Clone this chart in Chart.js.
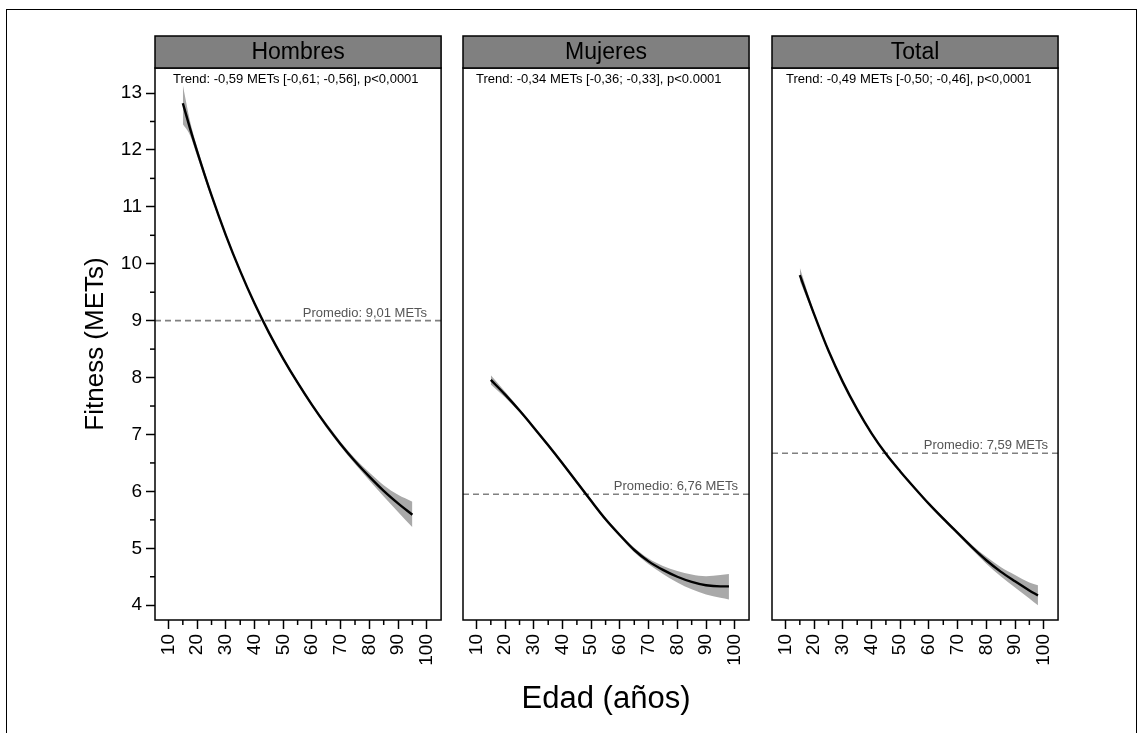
<!DOCTYPE html>
<html><head><meta charset="utf-8">
<script src="https://cdn.jsdelivr.net/npm/chart.js@4.4.1/dist/chart.umd.min.js"></script>
<style>
html,body{margin:0;padding:0;background:#fff;width:1141px;height:733px;overflow:hidden;}
#frame{position:absolute;left:6px;top:9px;width:1131px;height:740px;border:1.5px solid #000;box-sizing:border-box;}
canvas{position:absolute;top:0;}
</style></head><body>
<div id="frame"></div>
<canvas id="c1" width="455" height="733" style="left:0px"></canvas>
<canvas id="c2" width="308" height="733" style="left:455px"></canvas>
<canvas id="c3" width="309" height="733" style="left:763px"></canvas>
<script>
// ---- tick labels / axes ----
const X_TICKS = [10, 20, 30, 40, 50, 60, 70, 80, 90, 100];
const X_MINOR = [15, 25, 35, 45, 55, 65, 75, 85, 95];
const Y_TICKS = [4, 5, 6, 7, 8, 9, 10, 11, 12, 13];
const Y_MINOR = [4.5, 5.5, 6.5, 7.5, 8.5, 9.5, 10.5, 11.5, 12.5];
const X_MIN = 5.3, X_MAX = 105;
const Y_MIN = 3.74, Y_MAX = 13.44;
const Y_TITLE = 'Fitness (METs)';
const X_TITLE = 'Edad (años)';

// ---- panels ----
const PANELS = ['Hombres', 'Mujeres', 'Total'];
const TRENDS = [
  'Trend: -0,59 METs [-0,61; -0,56], p<0,0001',
  'Trend: -0,34 METs [-0,36; -0,33], p<0.0001',
  'Trend: -0,49 METs [-0,50; -0,46], p<0,0001'
];
const MEAN_LABELS = ['Promedio: 9,01 METs', 'Promedio: 6,76 METs', 'Promedio: 7,59 METs'];
const MEAN_LINE = [9.0, 5.95, 6.67];

// ---- Hombres ----
const AGE_H = [15, 17.5, 20, 25, 30, 35, 40, 45, 50, 55, 60, 65, 70, 75, 80, 85, 90, 95];
const FIT_H = [12.82, 12.38, 11.97, 11.20, 10.50, 9.87, 9.30, 8.79, 8.33, 7.91, 7.52, 7.16, 6.83, 6.53, 6.26, 6.01, 5.79, 5.59];
const LO_H  = [12.45, 12.26, 11.89, 11.15, 10.46, 9.84, 9.27, 8.76, 8.30, 7.88, 7.49, 7.12, 6.79, 6.48, 6.19, 5.91, 5.64, 5.37];
const HI_H  = [13.14, 12.51, 12.05, 11.25, 10.54, 9.90, 9.33, 8.82, 8.36, 7.94, 7.55, 7.20, 6.87, 6.58, 6.33, 6.11, 5.94, 5.82];

// ---- Mujeres ----
const AGE_M = [15, 20, 25, 30, 35, 40, 45, 50, 55, 60, 65, 70, 75, 80, 85, 90, 95, 98];
const FIT_M = [7.96, 7.70, 7.42, 7.12, 6.81, 6.49, 6.16, 5.83, 5.51, 5.23, 4.97, 4.77, 4.62, 4.50, 4.41, 4.35, 4.33, 4.33];
const LO_M  = [7.88, 7.65, 7.39, 7.09, 6.78, 6.46, 6.13, 5.80, 5.48, 5.20, 4.93, 4.72, 4.55, 4.40, 4.28, 4.19, 4.13, 4.10];
const HI_M  = [8.04, 7.75, 7.45, 7.15, 6.84, 6.52, 6.19, 5.86, 5.54, 5.26, 5.01, 4.82, 4.69, 4.60, 4.54, 4.51, 4.53, 4.55];

// ---- Total ----
const AGE_T = [15, 20, 25, 30, 35, 40, 45, 50, 55, 60, 65, 70, 75, 80, 85, 90, 95, 98];
const FIT_T = [9.80, 9.11, 8.47, 7.92, 7.44, 7.02, 6.66, 6.35, 6.06, 5.78, 5.52, 5.27, 5.02, 4.79, 4.59, 4.42, 4.26, 4.17];
const LO_T  = [9.70, 9.07, 8.44, 7.90, 7.42, 7.00, 6.64, 6.33, 6.04, 5.76, 5.49, 5.24, 4.98, 4.73, 4.51, 4.31, 4.12, 4.00];
const HI_T  = [9.93, 9.15, 8.50, 7.94, 7.46, 7.04, 6.68, 6.37, 6.08, 5.80, 5.55, 5.30, 5.06, 4.85, 4.67, 4.53, 4.40, 4.35];

const FONT = '"Liberation Sans", Arial, Helvetica, sans-serif';
Chart.defaults.font.family = FONT;
Chart.defaults.color = '#000';

const pts = (xs, ys) => xs.map((x, i) => ({x: x, y: ys[i]}));

const decoPlugin = {
  id: 'deco',
  afterDraw(chart, args, o) {
    const {ctx, chartArea: a, scales} = chart;
    ctx.save();
    ctx.strokeStyle = '#000';
    ctx.lineWidth = 1.5;
    // minor x ticks
    X_MINOR.forEach(v => {
      const x = scales.x.getPixelForValue(v);
      ctx.beginPath(); ctx.moveTo(x, a.bottom); ctx.lineTo(x, a.bottom + 5); ctx.stroke();
    });
    if (o.yMinor) {
      Y_MINOR.forEach(v => {
        const y = scales.y.getPixelForValue(v);
        ctx.beginPath(); ctx.moveTo(a.left, y); ctx.lineTo(a.left - 5, y); ctx.stroke();
      });
    }
    // panel box
    ctx.strokeRect(a.left, a.top, a.right - a.left, a.bottom - a.top);
    // header strip
    const hTop = 36;
    ctx.fillStyle = '#808080';
    ctx.fillRect(a.left, hTop, a.right - a.left, a.top - hTop);
    ctx.strokeRect(a.left, hTop, a.right - a.left, a.top - hTop);
    ctx.fillStyle = '#000';
    ctx.font = '23px ' + FONT;
    ctx.textAlign = 'center';
    ctx.textBaseline = 'middle';
    ctx.fillText(o.header, (a.left + a.right) / 2, (hTop + a.top) / 2 + 1);
    // trend text
    ctx.font = '13px ' + FONT;
    ctx.textAlign = 'left';
    ctx.fillText(o.trend, a.left + o.trendDx, a.top + 11);
    // mean label
    const ym = scales.y.getPixelForValue(o.mean);
    ctx.fillStyle = '#555';
    ctx.textAlign = 'right';
    ctx.textBaseline = 'alphabetic';
    ctx.fillText(o.meanLabel, a.right - o.meanDx, ym - 4);
    ctx.restore();
  }
};

function makePanel(id, idx, ages, fit, lo, hi, pad, trendDx, meanDx) {
  const first = idx === 0;
  const middle = idx === 1;
  new Chart(document.getElementById(id), {
    type: 'line',
    data: {
      datasets: [
        {data: pts(ages, hi), order: 3, borderWidth: 0, pointRadius: 0, fill: '+1', backgroundColor: '#a9a9a9', borderColor: 'rgba(0,0,0,0)', cubicInterpolationMode: 'monotone'},
        {data: pts(ages, lo), order: 4, borderWidth: 0, pointRadius: 0, fill: false, borderColor: 'rgba(0,0,0,0)', cubicInterpolationMode: 'monotone'},
        {data: [{x: X_MIN, y: MEAN_LINE[idx]}, {x: X_MAX, y: MEAN_LINE[idx]}], order: 2, borderColor: '#808080', borderWidth: 1.6, borderDash: [6, 4], pointRadius: 0, fill: false},
        {data: pts(ages, fit), order: 1, borderColor: '#000', borderWidth: 2.4, pointRadius: 0, fill: false, cubicInterpolationMode: 'monotone'}
      ]
    },
    options: {
      responsive: false,
      animation: false,
      devicePixelRatio: 1,
      layout: {padding: {left: pad[0], right: pad[1], top: 68, bottom: 0}},
      plugins: {
        legend: {display: false},
        tooltip: {enabled: false},
        deco: {header: PANELS[idx], trend: TRENDS[idx], trendDx: trendDx, mean: MEAN_LINE[idx], meanLabel: MEAN_LABELS[idx], meanDx: meanDx, yMinor: first}
      },
      scales: {
        x: {
          type: 'linear', min: X_MIN, max: X_MAX,
          afterBuildTicks: s => { s.ticks = X_TICKS.map(v => ({value: v})); },
          afterFit: s => { s.height = 113; },
          ticks: {font: {size: 19}, color: '#000', minRotation: 90, maxRotation: 90, padding: 5, autoSkip: false, callback: v => String(v)},
          grid: {drawOnChartArea: false, drawTicks: true, tickLength: 9, tickColor: '#000', tickWidth: 1.5},
          border: {display: false},
          title: middle ? {display: true, text: X_TITLE, font: {size: 31}, color: '#000', padding: {top: 0, bottom: 15}} : {display: false}
        },
        y: {
          type: 'linear', min: Y_MIN, max: Y_MAX, display: first,
          afterBuildTicks: s => { s.ticks = Y_TICKS.map(v => ({value: v})); },
          afterFit: s => { s.width = first ? 155 : 0; },
          ticks: {font: {size: 19}, color: '#000', padding: 4, autoSkip: false, callback: v => String(v)},
          grid: {drawOnChartArea: false, drawTicks: true, tickLength: 9, tickColor: '#000', tickWidth: 1.5},
          border: {display: false},
          title: {display: first, text: Y_TITLE, font: {size: 26}, color: '#000', padding: {top: 80, bottom: 0}}
        }
      }
    },
    plugins: [decoPlugin]
  });
}

makePanel('c1', 0, AGE_H, FIT_H, LO_H, HI_H, [0, 9], 18, 14);
makePanel('c2', 1, AGE_M, FIT_M, LO_M, HI_M, [8, 10], 13, 11);
makePanel('c3', 2, AGE_T, FIT_T, LO_T, HI_T, [9, 10], 14, 10);
</script>
</body></html>
